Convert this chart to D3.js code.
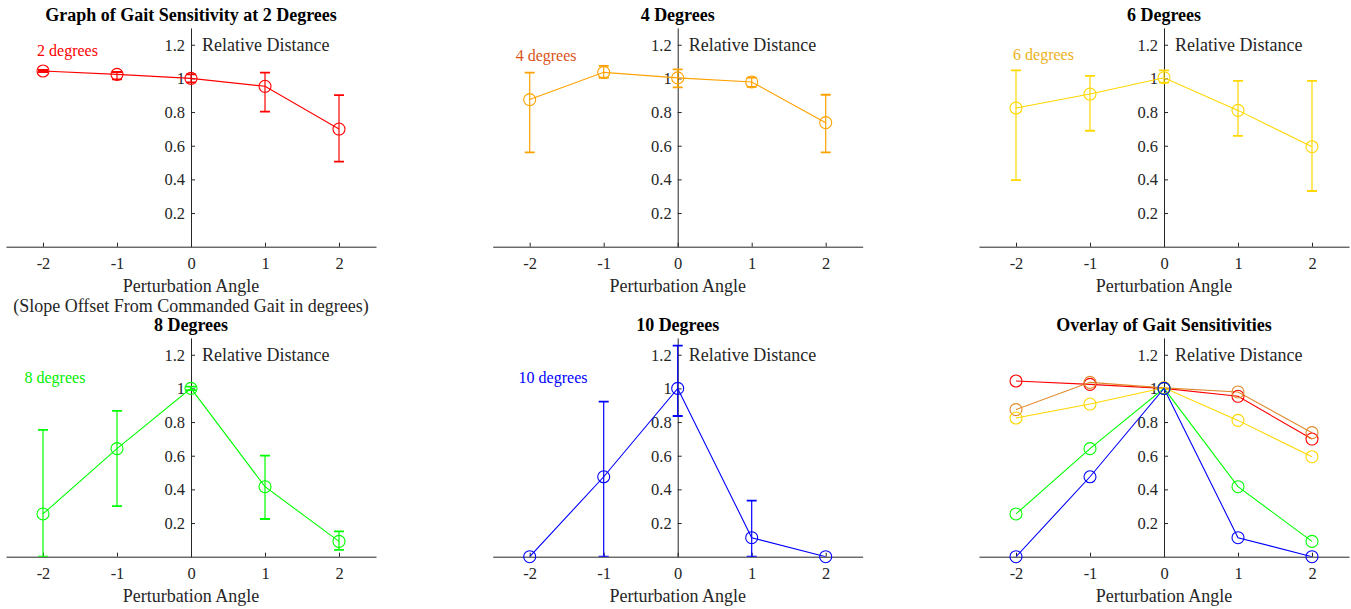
<!DOCTYPE html>
<html>
<head>
<meta charset="utf-8">
<script src="https://cdn.jsdelivr.net/npm/d3@7"></script>
<style>
  body { margin: 0; background: #fff; }
  svg { display: block; }
  text { font-family: "Liberation Serif", "Times New Roman", serif; }
</style>
</head>
<body>
<svg id="chart" width="1351" height="609"></svg>
<script>
// ---------- data ----------
const angles = [-2, -1, 0, 1, 2];
const xTickLabels = ["-2", "-1", "0", "1", "2"];
const yTickValues = [0.2, 0.4, 0.6, 0.8, 1.0, 1.2];

const seriesNames = ["2 degrees", "4 degrees", "6 degrees", "8 degrees", "10 degrees"];
const panelTitles = ["Graph of Gait Sensitivity at 2 Degrees", "4 Degrees", "6 Degrees",
                     "8 Degrees", "10 Degrees", "Overlay of Gait Sensitivities"];

const means2  = [1.044, 1.024, 1.000, 0.953, 0.699];
const upper2  = [1.050, 1.038, 1.024, 1.034, 0.901];
const lower2  = [1.038, 0.994, 0.976, 0.802, 0.505];

const means4  = [0.874, 1.036, 1.003, 0.979, 0.737];
const upper4  = [1.034, 1.075, 1.054, 1.005, 0.903];
const lower4  = [0.561, 1.004, 0.947, 0.950, 0.561];

const means6  = [0.824, 0.907, 1.004, 0.810, 0.594];
const upper6  = [1.048, 1.015, 1.048, 0.985, 0.985];
const lower6  = [0.395, 0.689, 0.975, 0.658, 0.331];

const means8  = [0.254, 0.642, 1.000, 0.416, 0.091];
const upper8  = [0.753, 0.867, 1.010, 0.600, 0.151];
const lower8  = [0.000, 0.301, 0.990, 0.224, 0.040];

const means10 = [0.000, 0.475, 1.000, 0.113, 0.000];
const upper10 = [0.000, 0.921, 1.254, 0.333, 0.000];
const lower10 = [0.000, 0.000, 0.836, 0.000, 0.000];

const lineColors    = ["#ff0000", "#ffa200", "#ffd700", "#00ff00", "#0000ff"];
const overlayColors = ["#ff0000", "#e0892c", "#ffd700", "#00ff00", "#0000ff"];
const labelColors   = ["#ff0000", "#d95319", "#edb120", "#00ee00", "#0000ff"];
// annotation anchor positions in data units (x, y)
const labelX = [-2.08, -2.19, -2.04, -2.25, -2.15];
const labelY = [1.135, 1.105, 1.11, 1.03, 1.035];

const allMeans = [means2, means4, means6, means8, means10];
const allUpper = [upper2, upper4, upper6, upper8, upper10];
const allLower = [lower2, lower4, lower6, lower8, lower10];

// ---------- layout ----------
const svg = d3.select("#chart");
const colOrigins = [191, 677.7, 1164];
const rowBase = [246.7, 556.7];
const unitX = 74;
const unitY = 168.3;
const axisColor = "#262626";

function makePanel(idx) {
  const col = idx % 3, row = Math.floor(idx / 3);
  const ox = colOrigins[col];
  const x = d3.scaleLinear().domain([-2.5, 2.5]).range([ox - 2.5 * unitX, ox + 2.5 * unitX]);
  const y = d3.scaleLinear().domain([0, 1.3]).range([rowBase[row], rowBase[row] - 1.3 * unitY]);
  const g = svg.append("g");

  const xa = g.append("g")
    .attr("transform", `translate(0,${y(0)})`)
    .call(d3.axisBottom(x).tickValues(angles).tickFormat((d, i) => xTickLabels[i])
      .tickSize(-4).tickSizeOuter(0).tickPadding(11));
  const ya = g.append("g")
    .attr("transform", `translate(${x(0)},0)`)
    .call(d3.axisLeft(y).tickValues(yTickValues).tickFormat(d => String(+d.toFixed(1)))
      .tickSize(-4).tickSizeOuter(0).tickPadding(6));
  [xa, ya].forEach(a => {
    a.selectAll("path.domain").attr("stroke", axisColor).attr("stroke-width", 1);
    a.selectAll("line").attr("stroke", axisColor).attr("stroke-width", 1);
    a.selectAll("text").attr("fill", axisColor).style("font-size", "16.5px")
      .style("font-family", "'Liberation Serif', serif");
  });

  g.append("text").attr("x", x(0)).attr("y", y(1.3) - 7)
    .attr("text-anchor", "middle").attr("font-weight", "bold")
    .style("font-size", "18px").attr("fill", "#000").text(panelTitles[idx]);

  g.append("text").attr("x", x(0) + 11).attr("y", y(1.2) + 6)
    .style("font-size", "18px").attr("fill", axisColor).text("Relative Distance");

  g.append("text").attr("x", x(0)).attr("y", y(0) + 45)
    .attr("text-anchor", "middle").style("font-size", "18px").attr("fill", axisColor)
    .text("Perturbation Angle");
  if (idx === 0) {
    g.append("text").attr("x", x(0)).attr("y", y(0) + 65)
      .attr("text-anchor", "middle").style("font-size", "18px").attr("fill", axisColor)
      .text("(Slope Offset From Commanded Gait in degrees)");
  }

  const clipId = "clip" + idx;
  g.append("clipPath").attr("id", clipId).append("rect")
    .attr("x", x(-2.5)).attr("y", y(1.3)).attr("width", x(2.5) - x(-2.5)).attr("height", y(0) - y(1.3));
  const plot = g.append("g").attr("clip-path", `url(#${clipId})`);

  return { x, y, plot, g };
}

function drawSeries(p, s, color, withErr) {
  const { x, y, plot } = p;
  const pts = angles.map((a, i) => ({ a, m: allMeans[s][i], u: allUpper[s][i], l: allLower[s][i] }));
  const line = d3.line().x(d => x(d.a)).y(d => y(d.m));
  plot.append("path").datum(pts).attr("d", line).attr("fill", "none")
    .attr("stroke", color).attr("stroke-width", 1.1);
  if (withErr) {
    const eb = plot.append("g").attr("stroke", color);
    pts.filter(d => d.u - d.l > 0.001).forEach(d => {
      eb.append("line").attr("x1", x(d.a)).attr("x2", x(d.a)).attr("y1", y(d.u)).attr("y2", y(d.l)).attr("stroke-width", 1.2);
      eb.append("line").attr("x1", x(d.a) - 5).attr("x2", x(d.a) + 5).attr("y1", y(d.u)).attr("y2", y(d.u)).attr("stroke-width", 1.8);
      eb.append("line").attr("x1", x(d.a) - 5).attr("x2", x(d.a) + 5).attr("y1", y(d.l)).attr("y2", y(d.l)).attr("stroke-width", 1.8);
    });
  }
  p.g.selectAll(null).data(pts).enter().append("circle")
    .attr("cx", d => x(d.a)).attr("cy", d => y(d.m)).attr("r", 6)
    .attr("fill", "none").attr("stroke", color).attr("stroke-width", 1.1);
}

for (let s = 0; s < 5; s++) {
  const p = makePanel(s);
  drawSeries(p, s, lineColors[s], true);
  p.g.append("text").attr("x", p.x(labelX[s])).attr("y", p.y(labelY[s]))
    .style("font-size", "16px").attr("fill", labelColors[s]).text(seriesNames[s]);
}
const ov = makePanel(5);
for (let s = 0; s < 5; s++) drawSeries(ov, s, overlayColors[s], false);
</script>
</body>
</html>
